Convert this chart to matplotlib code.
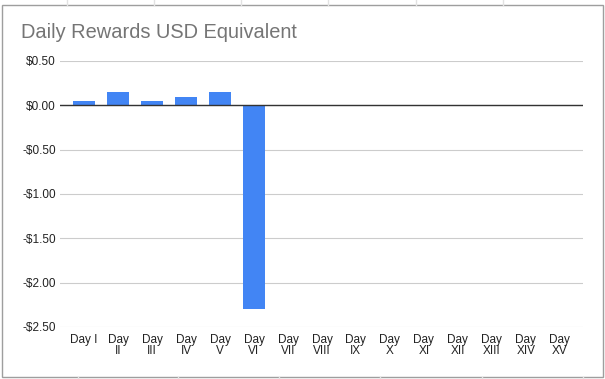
import numpy as np
import matplotlib.pyplot as plt
import matplotlib as mpl

days = ["Day I", "Day\nII", "Day\nIII", "Day\nIV", "Day\nV", "Day\nVI", "Day\nVII", "Day\nVIII",
        "Day\nIX", "Day\nX", "Day\nXI", "Day\nXII", "Day\nXIII", "Day\nXIV", "Day\nXV"]
rewards = [0.045, 0.147, 0.045, 0.09, 0.15, -2.30]
yticks = [0.5, 0.0, -0.5, -1.0, -1.5, -2.0, -2.5]

plt.rcParams['font.family'] = ['Liberation Sans', 'DejaVu Sans']


def main():
    W, H = 605, 379
    fig = plt.figure(figsize=(W / 100, H / 100), dpi=100)

    # spreadsheet cell lines behind the chart
    grid_c = "#e2e2e2"
    for x in [67, 154, 241, 328, 416, 503]:
        fig.add_artist(mpl.lines.Line2D([x / W, x / W], [1, 1 - 5 / H], color=grid_c, lw=1))
    for x in [78, 178, 279, 380, 482, 583]:
        fig.add_artist(mpl.lines.Line2D([x / W, x / W], [0, 2 / H], color=grid_c, lw=1))

    # chart border
    fig.add_artist(mpl.patches.Rectangle((2 / W, 2 / H), 601 / W, 372 / H, transform=fig.transFigure,
                                         fill=False, edgecolor="#9e9e9e", lw=1))

    # plot area: x from 60 to 583 px, y from 61 (0.5) to 327 (-2.5)
    ax = fig.add_axes([60 / W, 1 - 327 / H, 523 / W, 266 / H])
    x = np.arange(len(days))
    ax.bar(x[:len(rewards)], rewards, width=0.65, color="#4285f4", zorder=3)
    ax.axhline(0, color="#333333", lw=1, zorder=4)

    ax.set_xlim(-0.706, 14.68)
    ax.set_ylim(-2.5, 0.5)
    ax.set_yticks(yticks)
    ax.set_yticklabels([("-" if v < 0 else "") + "$%.2f" % abs(v) for v in yticks])
    ax.set_xticks(x)
    ax.set_xticklabels(days, linespacing=0.95, multialignment="center")
    ax.tick_params(axis="both", length=0, labelsize=8.5, labelcolor="#222222")
    ax.tick_params(axis="y", pad=3)
    ax.tick_params(axis="x", pad=5)
    ax.grid(axis="y", color="#cccccc", lw=0.8, zorder=0)
    for s in ax.spines.values():
        s.set_visible(False)

    fig.text(21 / W, 1 - 32 / H, "Daily Rewards USD Equivalent", fontsize=14.4, color="#757575",
             va="center", ha="left")

    plt.savefig("out.png", dpi=100)


if __name__ == '__main__':
    main()
